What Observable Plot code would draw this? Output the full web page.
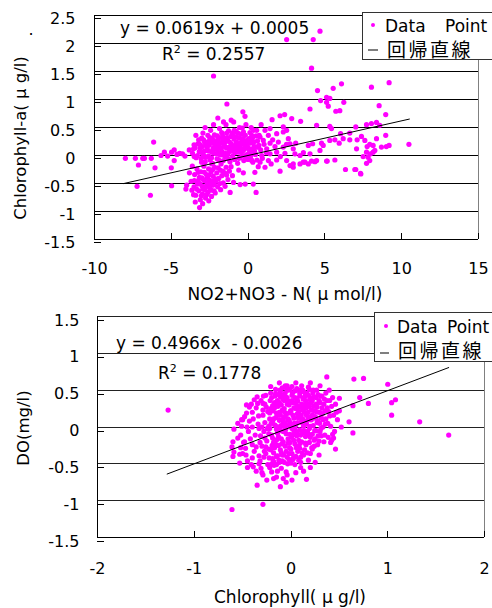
<!DOCTYPE html>
<html><head><meta charset="utf-8">
<script src="https://cdn.jsdelivr.net/npm/d3@7"></script>
<script src="https://cdn.jsdelivr.net/npm/@observablehq/plot@0.6"></script>
<style>
body{margin:0;background:#fff;}
#chart{width:492px;height:608px;position:relative;overflow:hidden;background:#fff;}
svg{display:block;}
</style></head><body><div id="chart"></div>
<script>
// ---------- data ----------
const topTicksX = [-10, -5, 0, 5, 10, 15];
const topTicksY = [-1.5, -1, -0.5, 0, 0.5, 1, 1.5, 2, 2.5];
const bottomTicksX = [-2, -1, 0, 1, 2];
const bottomTicksY = [-1.5, -1, -0.5, 0, 0.5, 1, 1.5];

const topSlope = 0.0619, topIntercept = 0.0005;
const bottomSlope = 0.4966, bottomIntercept = -0.0026;
const topLineX = [-8.1, 10.5];
const bottomLineX = [-1.28, 1.63];

const topEquation = "y = 0.0619x + 0.0005";
const topR2 = "0.2557";
const bottomEquation = "y = 0.4966x  - 0.0026";
const bottomR2 = "0.1778";
const topXLabel = "NO2+NO3 - N( μ mol/l)";
const topYLabel = "Chlorophyll-a( μ g/l)";
const bottomXLabel = "Chlorophyll( μ g/l)";
const bottomYLabel = "DO(mg/l)";
const legendPoint = "Data Point";
const legendLine = "回帰直線";

// NO2+NO3-N vs Chlorophyll-a
const topPoints = [
[-2.25,1.42],[-1.38,0.92],[-0.34,0.78],[-1.10,0.63],[-1.97,0.67],[-2.25,0.55],[-6.15,0.24],[-7.99,-0.05],[-7.34,-0.05],[-6.86,-0.05],[-6.75,-0.05],[-6.30,-0.05],[-7.14,-0.17],[-6.06,-0.22],[-7.23,-0.55],[-6.36,-0.71],[-5.0,-0.22],[-4.98,-0.54],[-3.16,-0.93],
[-5.67,0.0],[-5.45,0.06],[-5.24,-0.01],[-4.98,0.06],[-4.81,0.1],[-4.63,0.02],[-4.46,0.04],[-4.27,0.03],[-4.11,-0.01],[-3.83,0.1],[-3.55,0.12],[-3.51,-0.02],[-4.81,-0.09],[-4.05,-0.6],[-4.0,-0.53],
[-0.95,-0.48],[-0.52,-0.52],[-0.19,-0.51],[-2.14,-0.67],[-1.17,-0.66],
[4.68,2.22],[2.51,2.07],[4.24,2.07],[4.13,1.56],[6.08,1.28],[9.18,1.30],[8.03,1.22],[4.52,1.16],[5.54,1.20],[5.11,1.04],[5.32,1.02],[4.72,0.98],[5.11,0.95],[6.23,0.95],[5.22,0.88],[5.97,0.80],[5.71,0.79],[4.03,0.83],[8.53,0.89],[8.96,0.73],[8.57,0.54],[8.96,0.36],[10.47,0.20],[1.56,0.64],[2.08,0.71],[2.38,0.73],[2.84,0.66],[3.42,0.61],[2.29,0.51],[4.46,0.54],[5.32,0.52],[5.43,0.48],[6.02,0.39],[6.62,0.40],[7.01,0.51],[7.71,0.55],[8.03,0.57],[8.36,0.59],
[7.38,0.34],[7.60,0.27],[7.75,0.16],[7.92,0.20],[8.14,0.18],[8.25,0.09],[7.71,0.06],[7.97,0.03],[7.49,-0.02],[7.81,-0.03],[9.0,0.16],[9.18,0.18],[8.36,0.30],[8.68,0.15],[7.06,0.12],[7.92,-0.09],[7.71,-0.14],[8.14,0.06],[7.32,-0.32],
[3.92,0.18],[4.20,0.21],[4.78,0.22],[4.89,0.18],[5.32,0.27],[5.65,0.28],[5.93,0.22],[6.19,0.30],[6.62,0.28],[7.10,0.28],[5.15,-0.10],[5.65,-0.08],[6.34,-0.25],[7.01,-0.25],[7.34,-0.33],[4.03,0.03],[4.68,0.09],[4.46,-0.09],[3.70,-0.12],[3.92,-0.15],[4.35,-0.11],[5.11,-0.10],[6.95,-0.25],
[0.56,0.45],[1.10,0.45],[1.43,0.48],[0.24,0.36],[0.78,0.33],[1.32,0.36],[1.86,0.39],[2.29,0.42],[2.51,0.45],[0.34,0.24],[0.99,0.27],[1.43,0.22],[1.97,0.24],[2.62,0.30],[2.73,0.21],[0.13,0.12],[0.67,0.15],[1.21,0.12],[1.75,0.16],[2.29,0.15],[2.94,0.12],[0.45,0.03],[0.89,0.0],[1.43,0.03],[1.86,0.06],[2.40,0.04],[3.05,0.03],[3.38,0.0],[0.24,-0.09],[0.78,-0.12],[1.32,-0.09],[1.86,-0.08],[2.51,-0.09],[2.94,-0.15],[3.59,-0.12],[4.13,-0.10],[0.52,-0.66],[0.34,-0.51],[1.10,-0.21],[2.08,-0.28],[2.94,-0.21],[2.73,-0.18],[3.38,-0.15],
[-3.62,0.04],[-3.45,0.14],[-3.38,-0.04],[-3.27,0.21],[-3.18,0.07],[-3.06,-0.06],[-2.98,0.16],[-3.02,0.31],[-2.91,0.01],[-2.83,0.23],[-2.79,-0.11],[-2.69,0.09],[-2.62,0.36],[-2.58,-0.01],[-2.52,0.19],[-2.47,-0.08],[-2.41,0.27],[-2.36,0.06],[-2.28,0.13],[-2.31,-0.14],[-2.19,0.37],[-2.17,0.2],[-2.08,0.03],[-2.12,0.26],[-1.99,0.11],[-2.02,-0.06],[-1.92,0.31],[-1.88,0.16],[-1.81,0.01],[-1.77,0.23],[-1.69,0.07],[-1.72,0.41],[-1.61,-0.09],[-1.58,0.19],[-1.51,0.3],[-1.47,0.04],[-1.39,0.13],[-1.42,-0.03],[-1.31,0.26],[-1.27,0.44],[-1.21,0.07],[-1.18,-0.11],[-1.09,0.21],[-1.12,0.34],[-1.01,-0.01],[-0.98,0.16],[-0.91,0.29],[-0.88,-0.07],[-0.81,0.11],[-0.78,0.43],[-0.71,0.19],[-0.68,-0.14],[-0.61,0.06],[-0.57,0.31],[-0.49,0.13],[-0.52,-0.04],[-0.41,0.24],[-0.38,0.49],[-0.31,0.09],[-0.28,-0.09],[-0.21,0.18],[-0.18,0.36],[-0.11,0.01],[-0.08,0.27],[0.01,0.12],[-0.02,-0.07],[0.09,0.22],[0.12,0.41],[0.19,0.05],[0.28,0.31],[0.31,-0.12],[0.39,0.16],[0.48,0.02],[0.61,0.26],[-2.66,0.14],[-2.33,0.31],[-1.96,0.05],[-1.54,0.22],[-1.16,0.1],[-0.74,0.33],[-0.36,0.0],[0.06,0.3],[-2.74,-0.03],[-2.14,0.12],[-1.64,0.28],[-1.24,0.15],[-0.84,0.18],[-0.46,0.38],[-0.04,0.15],[0.24,0.1],[-3.22,0.28],[-2.94,0.4],[-2.44,0.45],[-1.86,0.48],[-1.44,0.55],[-0.94,0.6],[-0.56,0.5],[-0.14,0.55],[0.36,0.45],[0.72,0.36],[0.82,0.1],[0.93,-0.05],[1.04,0.2],[0.66,-0.2],[0.44,-0.3],[-1.34,0.02],[-0.64,0.12],[-0.24,0.24],[0.16,-0.02],[-2.86,0.08],[-3.12,0.13],[-3.52,0.19],[-1.05,0.4],[-0.45,0.2],[0.55,0.15],[1.2,0.05],[1.6,0.28],[2.1,-0.02],[2.5,0.2],[3.1,0.22],[3.6,0.05],[-0.2,0.7],[-1.6,0.6],[-2.8,0.5],[-3.4,0.36],[0.85,0.55],[1.5,-0.15],
[-3.3,0.0],[-3.15,0.2],[-2.95,-0.02],[-2.9,0.28],[-2.72,0.18],[-2.55,0.08],[-2.5,0.32],[-2.38,-0.04],[-2.25,0.22],[-2.22,0.04],[-2.05,0.18],[-1.95,0.24],[-1.9,-0.08],[-1.75,0.13],[-1.66,0.35],[-1.56,0.0],[-1.48,0.15],[-1.36,0.32],[-1.28,-0.06],[-1.2,0.24],[-1.06,0.08],[-0.96,0.36],[-0.86,0.05],[-0.76,0.24],[-0.66,0.4],[-0.6,-0.05],[-0.5,0.22],[-0.44,0.06],[-0.34,0.3],[-0.26,0.12],[-0.16,-0.04],[-0.06,0.2],[0.04,0.04],[0.14,0.3],[0.22,-0.08],[0.34,0.22],[0.42,0.08],[0.52,0.35],[0.58,-0.08],[0.7,0.18],[-3.0,0.05],[-2.6,0.25],[-2.0,0.35],[-1.4,0.4],[-0.9,0.45],[-0.3,0.42],[0.2,0.5],
[-3.82,-0.31],[-3.71,-0.46],[-3.63,-0.19],[-3.52,-0.56],[-3.48,-0.34],[-3.41,-0.71],[-3.33,-0.24],[-3.29,-0.51],[-3.21,-0.63],[-3.17,-0.39],[-3.11,-0.79],[-3.08,-0.29],[-3.01,-0.54],[-2.97,-0.69],[-2.91,-0.43],[-2.88,-0.19],[-2.81,-0.61],[-2.77,-0.76],[-2.71,-0.34],[-2.67,-0.49],[-2.61,-0.66],[-2.57,-0.24],[-2.51,-0.44],[-2.48,-0.59],[-2.41,-0.29],[-2.38,-0.73],[-2.31,-0.53],[-2.27,-0.37],[-2.21,-0.63],[-2.18,-0.21],[-2.11,-0.46],[-2.04,-0.31],[-1.98,-0.56],[-1.91,-0.41],[-1.82,-0.26],[-1.79,-0.61],[-1.71,-0.36],[-1.62,-0.49],[-1.52,-0.31],[-1.43,-0.21],[-1.31,-0.43],[-1.22,-0.28],[-1.02,-0.36],[-3.44,-0.83],[-2.96,-0.86],[-2.56,-0.81],[-3.66,-0.62],[-3.03,-0.12],[-2.36,-0.15],[-1.76,-0.15],[-1.11,-0.2],[-0.61,-0.26],[-0.31,-0.31],[-3.25,-0.45],[-2.75,-0.55],[-2.25,-0.45],[-2.65,-0.4],[-3.0,-0.4],[-1.5,-0.55],[-3.55,-0.7],[-2.85,-0.3],[-2.45,-0.5],
[-3.35,-0.6],[-3.15,-0.5],[-2.95,-0.6],[-2.85,-0.45],[-2.7,-0.7],[-2.55,-0.35],[-2.4,-0.62],[-2.2,-0.52],[-2.05,-0.42],[-1.95,-0.22],[-1.85,-0.5],[-1.65,-0.28],[-3.05,-0.72],[-3.5,-0.45],[-2.6,-0.55],[-3.25,-0.3],[-2.3,-0.25],[-1.4,-0.35]
];

// Chlorophyll vs DO
const bottomPoints = [
[0.37,0.68],[-0.04,0.56],[0.30,0.56],[-0.29,0.32],[-0.51,0.10],[-0.59,-0.03],[-0.61,-0.27],[-0.60,-0.40],[-0.53,-0.49],[-0.35,-0.79],[-0.11,-0.81],[0.16,-0.71],[-0.29,-1.05],[-0.61,-1.12],[-0.39,-0.54],[-0.29,-0.65],[-0.18,-0.70],[-0.04,-0.65],[0.01,-0.72],[0.29,-0.38],[0.46,-0.30],[-0.59,-0.34],[-0.53,-0.37],[0.65,0.65],[0.75,0.66],[1.00,0.58],[1.04,0.33],[1.08,0.37],[1.04,0.16],[1.33,0.07],[1.63,-0.11],[0.80,0.32],[0.71,0.40],[0.64,0.29],[0.60,0.07],[0.64,-0.08],[0.50,0.39],[0.52,0.0],[0.42,-0.18],[0.44,-0.15],[-1.27,0.23],[-0.50,0.10],
[-0.51,0.01],[-0.49,-0.21],[-0.52,-0.11],[-0.48,0.14],[-0.5,-0.36],
[-0.46,0.19],[-0.44,-0.06],[-0.47,-0.29],[-0.43,0.08],[-0.45,-0.46],
[-0.41,0.31],[-0.39,0.11],[-0.42,-0.16],[-0.38,-0.33],[-0.4,0.0],[-0.41,-0.51],
[-0.36,0.26],[-0.34,0.04],[-0.37,-0.11],[-0.33,-0.39],[-0.35,0.41],[-0.32,-0.21],[-0.36,-0.6],
[-0.31,0.36],[-0.29,0.16],[-0.28,-0.06],[-0.3,-0.26],[-0.32,-0.46],[-0.27,0.06],[-0.29,0.23],[-0.31,-0.56],
[-0.26,0.43],[-0.24,0.21],[-0.23,0.01],[-0.25,-0.19],[-0.26,-0.36],[-0.24,-0.51],[-0.22,0.11],[-0.27,0.31],[-0.23,-0.09],
[-0.21,0.46],[-0.19,0.29],[-0.18,0.11],[-0.2,-0.11],[-0.21,-0.31],[-0.19,-0.43],[-0.17,0.03],[-0.22,0.19],[-0.18,-0.21],[-0.2,-0.61],
[-0.16,0.51],[-0.14,0.36],[-0.13,0.16],[-0.15,-0.03],[-0.16,-0.23],[-0.14,-0.39],[-0.12,0.09],[-0.17,0.26],[-0.13,-0.13],[-0.15,-0.51],
[-0.11,0.41],[-0.09,0.23],[-0.08,0.06],[-0.1,-0.16],[-0.11,-0.31],[-0.09,-0.46],[-0.07,0.13],[-0.12,0.33],[-0.08,-0.06],[-0.1,-0.56],[-0.09,0.53],
[-0.06,0.46],[-0.04,0.31],[-0.03,0.11],[-0.05,-0.09],[-0.06,-0.26],[-0.04,-0.41],[-0.02,0.19],[-0.07,0.01],[-0.03,-0.16],[-0.05,-0.61],
[-0.01,0.51],[0.01,0.36],[0.02,0.16],[0.0,0.01],[-0.01,-0.21],[0.01,-0.36],[0.03,0.26],[-0.02,0.09],[0.02,-0.11],[0.0,-0.49],[0.01,0.43],
[0.04,0.49],[0.06,0.29],[0.07,0.13],[0.05,-0.06],[0.04,-0.23],[0.06,0.39],[0.08,0.21],[0.05,0.03],[0.07,-0.33],[0.04,-0.51],
[0.09,0.46],[0.11,0.31],[0.12,0.11],[0.1,-0.11],[0.09,-0.29],[0.12,0.23],[0.11,0.06],[0.1,-0.41],[0.11,0.56],
[0.14,0.41],[0.16,0.26],[0.17,0.09],[0.15,-0.13],[0.14,-0.31],[0.16,0.16],[0.15,0.36],[0.17,-0.06],
[0.19,0.51],[0.21,0.33],[0.22,0.16],[0.2,0.01],[0.19,-0.21],[0.21,0.23],[0.2,-0.36],
[0.24,0.41],[0.26,0.21],[0.27,0.06],[0.25,-0.16],[0.26,0.31],[0.24,-0.26],
[0.29,0.36],[0.31,0.13],[0.3,-0.06],[0.32,0.26],[0.29,-0.19],
[0.34,0.31],[0.36,0.11],[0.35,-0.11],[0.36,0.46],
[0.39,0.21],[0.41,0.01],[0.4,0.36],[0.41,-0.21],
[0.44,0.16],[0.46,0.31],[0.45,-0.06],
[-0.12,0.2],[-0.05,0.4],[0.03,-0.05],[-0.18,-0.35],[0.13,0.01],[-0.27,-0.15],[0.08,-0.18],[-0.07,0.36],[0.18,0.43],[-0.33,-0.02],[0.22,-0.1],[-0.14,-0.6],[0.28,0.44],[-0.4,0.2],[0.33,0.0],
[-0.335,0.15],[-0.315,-0.12],[-0.285,0.42],[-0.275,-0.33],[-0.255,0.27],[-0.245,-0.02],[-0.225,-0.42],[-0.215,0.36],[-0.205,0.05],[-0.195,-0.25],[-0.185,0.22],[-0.175,-0.52],[-0.165,0.42],[-0.155,0.13],[-0.145,-0.17],[-0.135,0.28],[-0.125,-0.45],[-0.115,0.5],[-0.105,0.02],[-0.095,-0.23],[-0.085,0.38],[-0.075,-0.38],[-0.065,0.2],[-0.055,-0.03],[-0.045,0.52],[-0.035,-0.5],[-0.025,0.35],[-0.015,-0.28],[-0.005,0.22],[0.005,-0.14],[0.015,0.46],[0.025,-0.42],[0.035,0.05],[0.045,0.33],[0.055,-0.28],[0.065,0.18],[0.075,-0.1],[0.085,0.5],[0.095,-0.22],[0.105,0.16],[0.115,-0.35],[0.125,0.38],[0.135,-0.05],[0.145,0.28],[0.155,-0.24],[0.165,0.46],[0.175,0.2],[0.185,-0.1],[0.195,0.38],[0.205,0.1],[0.215,-0.28],[0.225,0.46],[0.235,0.28],[0.245,-0.05],[0.255,0.12],[0.265,0.5],[0.275,-0.24],[0.285,0.2],[0.295,0.05],[0.305,0.42],[0.315,-0.12],[0.325,0.18],[0.345,0.38],[0.355,0.04],[0.375,0.26],[0.385,-0.14],[0.395,0.5],[0.43,0.4],[0.48,0.1],[-0.36,-0.27],[-0.345,0.32],[-0.4,-0.24],[-0.43,0.27],[-0.465,-0.38],[-0.455,0.0],[-0.38,0.37],[-0.21,0.55],[-0.12,0.6],[0.05,0.6],[0.2,0.6],[-0.28,-0.41],[-0.22,-0.55],[-0.08,-0.7],[0.1,-0.55],[0.18,-0.45],[-0.3,0.0],[-0.26,-0.27],[0.13,0.48],[0.07,0.26],[-0.02,-0.36],[-0.1,-0.35],
[-0.23,-0.3],[-0.22,-0.02],[-0.21,0.25],[-0.2,0.4],[-0.19,-0.15],[-0.19,0.08],[-0.18,-0.47],[-0.17,0.33],[-0.17,-0.28],[-0.16,0.02],[-0.16,0.45],[-0.15,0.19],[-0.15,-0.4],[-0.14,-0.08],[-0.14,0.3],[-0.13,0.44],[-0.13,-0.25],[-0.12,0.0],[-0.12,-0.48],[-0.11,0.16],[-0.11,0.48],[-0.1,-0.05],[-0.1,0.3],[-0.09,-0.38],[-0.09,0.1],[-0.08,0.43],[-0.08,-0.2],[-0.07,-0.48],[-0.07,0.25],[-0.06,0.06],[-0.06,0.56],[-0.05,-0.33],[-0.05,0.17],[-0.04,0.02],[-0.04,0.4],[-0.03,-0.22],[-0.03,0.5],[-0.02,-0.44],[-0.02,0.3],[-0.01,0.06],[-0.01,-0.1],[0.0,0.22],[0.0,-0.3],[0.01,0.55],[0.01,-0.02],[0.02,0.33],[0.02,-0.44],[0.03,0.12],[0.03,-0.18],[0.04,0.4],[0.04,0.0],[0.05,0.25],[0.05,-0.4],[0.06,0.52],[0.06,-0.12],[0.07,0.06],[0.07,0.35],[0.08,-0.26],[0.08,0.14],[0.09,0.42],[0.09,-0.04],[0.1,0.27],[0.1,-0.48],[0.11,0.1],[0.11,-0.2],[0.12,0.5],[0.12,-0.08],[0.13,0.3],[0.13,-0.38],[0.14,0.08],[0.14,0.2],[0.15,-0.22],[0.15,0.45],[0.16,0.04],[0.16,-0.1],[0.17,0.32],[0.17,-0.35],[0.18,0.14],[0.18,0.54],[0.19,-0.02],[0.19,0.28],[0.2,0.4],[0.2,-0.14],[0.21,0.1],[0.22,-0.3],[0.22,0.36],[0.23,0.02],[0.23,0.5],[0.24,0.22],[0.24,-0.18],[0.25,0.14],[0.26,0.4],[0.26,-0.05],[0.27,0.27],[0.28,-0.12],[0.28,0.08],[0.3,0.33],[0.3,0.2],[0.31,-0.02],[0.32,0.42],[0.33,0.1],[0.34,-0.2],[0.35,0.22],[0.37,0.36],[0.38,0.05],[0.4,0.15],[0.42,0.28],[0.43,-0.1],[0.47,0.2],[0.5,0.22],
[-0.4,-0.42],[-0.33,-0.5],[-0.3,-0.62],[-0.25,-0.72],[-0.15,-0.68],[-0.05,-0.75],[0.05,-0.62],[0.13,-0.6],[0.2,-0.55],[0.25,-0.48],[-0.45,-0.55],[-0.2,-0.5],[0.08,-0.45],
[-0.55,-0.15],[-0.55,0.05],[-0.48,-0.2],[-0.6,-0.2],[-0.46,0.3],[-0.52,-0.28]
];

// ---------- drawing ----------
const FONT = "'DejaVu Sans', 'Liberation Sans', sans-serif";
const CJK = "'Noto Sans CJK JP', 'Noto Sans CJK SC', sans-serif";
const MAGENTA = "#ff00ff";
const fmt = d => String(d);
const regLine = (xs, a, b) => xs.map(x => ({x, y: a * x + b}));

function panel(cfg) {
  const svg = Plot.plot({
    width: 492, height: 304,
    marginLeft: cfg.ml, marginRight: cfg.mr, marginTop: cfg.mt, marginBottom: cfg.mb,
    style: {fontFamily: FONT, fontSize: "16px", color: "#000", background: "#fff", overflow: "visible"},
    x: {domain: cfg.xDomain},
    y: {domain: cfg.yDomain},
    marks: [
      Plot.gridY(cfg.yTicks, {stroke: cfg.gridColor, strokeOpacity: 1, strokeWidth: 1, shapeRendering: "crispEdges"}),
      Plot.ruleX([cfg.xDomain[1]], {stroke: "#808080", shapeRendering: "crispEdges"}),
      Plot.ruleX([cfg.xDomain[0]], {stroke: "#000", shapeRendering: "crispEdges"}),
      Plot.ruleY([cfg.yDomain[0]], {stroke: "#000", shapeRendering: "crispEdges"}),
      Plot.axisX(cfg.xTicks, {tickSize: -6, tickPadding: cfg.xPad, tickFormat: fmt, label: null, fontSize: 16, shapeRendering: "crispEdges"}),
      Plot.axisY(cfg.yTicks, {tickSize: -7, tickPadding: cfg.yPad, tickFormat: fmt, label: null, dy: cfg.yDy, fontSize: 16, shapeRendering: "crispEdges"}),
      Plot.dot(cfg.points, {x: d => d[0], y: d => d[1], r: 2.6, fill: MAGENTA, stroke: "none"}),
      Plot.line(cfg.line, {x: "x", y: "y", stroke: "#000", strokeWidth: 1})
    ]
  });
  const s = d3.select(svg);
  const txt = () => s.append("text").attr("text-anchor", "start").attr("font-family", FONT).style("white-space", "pre");
  // equation
  txt().attr("x", cfg.eqX).attr("y", cfg.eqY).attr("font-size", 17).text(cfg.eq);
  const r = txt().attr("x", cfg.r2X).attr("y", cfg.r2Y).attr("font-size", 17);
  r.append("tspan").text("R");
  r.append("tspan").attr("font-size", 11).attr("dy", -7).text("2");
  r.append("tspan").attr("dy", 7).text(" = " + cfg.r2);
  // axis titles
  txt().attr("x", cfg.xtX).attr("y", cfg.xtY).attr("text-anchor", "middle").attr("dominant-baseline", "central")
    .attr("font-size", 17).text(cfg.xTitle);
  txt().attr("transform", `translate(${cfg.ytX},${cfg.ytY}) rotate(-90)`).attr("text-anchor", "middle")
    .attr("dominant-baseline", "central").attr("font-size", 16.5).text(cfg.yTitle);
  // legend
  const L = cfg.legend;
  s.append("rect").attr("x", L.x + 0.5).attr("y", L.y + 0.5).attr("width", 200).attr("height", L.h)
    .attr("fill", "#fff").attr("stroke", "#333").attr("stroke-width", 1);
  s.append("circle").attr("cx", L.dotX).attr("cy", L.dotY).attr("r", 2).attr("fill", MAGENTA);
  const t1 = txt().attr("x", L.t1X).attr("y", L.t1Y).attr("font-size", 17);
  const parts = legendPoint.split(" ");
  t1.append("tspan").text(parts[0]);
  t1.append("tspan").attr("x", L.t1X + L.gap).text(parts[1]);
  s.append("line").attr("x1", L.lx1).attr("x2", L.lx2).attr("y1", L.ly).attr("y2", L.ly).attr("stroke", "#555").attr("stroke-width", 1.5);
  txt().attr("x", L.t2X).attr("y", L.t2Y).attr("font-size", 19).attr("letter-spacing", 2.5)
    .attr("font-family", CJK).text(legendLine);
  return svg;
}

const chart = document.getElementById("chart");

chart.appendChild(panel({
  ml: 94, mr: 14, mt: 15, mb: 65,
  xDomain: [-10, 15], yDomain: [-1.5, 2.5],
  xTicks: topTicksX, yTicks: topTicksY, gridColor: "#000",
  xPad: 29, yPad: 26, yDy: 3,
  points: topPoints, line: regLine(topLineX, topSlope, topIntercept),
  eq: topEquation, eqX: 120, eqY: 34, r2: topR2, r2X: 162, r2Y: 60,
  xTitle: topXLabel, xtX: 285, xtY: 294,
  yTitle: topYLabel, ytX: 20, ytY: 138,
  legend: {x: 362, y: 12, h: 47, dotX: 373, dotY: 25, t1X: 385, t1Y: 32, gap: 60,
           lx1: 368, lx2: 378, ly: 50, t2X: 387, t2Y: 57}
}));
d3.select(chart.firstChild).append("text").attr("text-anchor", "start").attr("x", 28.5).attr("y", 34.5)
  .attr("font-size", 16).attr("font-family", FONT).text(".");

chart.appendChild(panel({
  ml: 97, mr: 8, mt: 12, mb: 71,
  xDomain: [-2, 2], yDomain: [-1.5, 1.5],
  xTicks: bottomTicksX, yTicks: bottomTicksY, gridColor: "#222",
  xPad: 31, yPad: 25, yDy: 4,
  points: bottomPoints, line: regLine(bottomLineX, bottomSlope, bottomIntercept),
  eq: bottomEquation, eqX: 116, eqY: 45, r2: bottomR2, r2X: 158, r2Y: 75,
  xTitle: bottomXLabel, xtX: 290, xtY: 293,
  yTitle: bottomYLabel, ytX: 23, ytY: 124,
  legend: {x: 374, y: 8, h: 49, dotX: 386, dotY: 22, t1X: 397, t1Y: 29, gap: 50,
           lx1: 380, lx2: 389, ly: 49, t2X: 398, t2Y: 54}
}));
</script></body></html>
